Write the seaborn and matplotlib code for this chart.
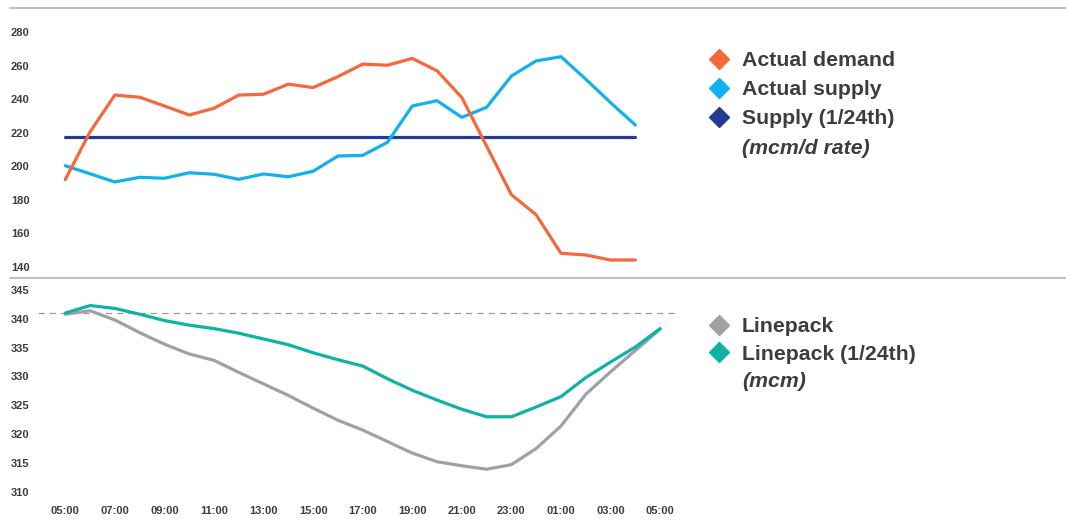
import matplotlib
matplotlib.use("Agg")
import matplotlib.pyplot as plt
from matplotlib.lines import Line2D
import seaborn as sns

# Gas day running 05:00 to 05:00
time_labels = ["05:00", "07:00", "09:00", "11:00", "13:00", "15:00", "17:00",
               "19:00", "21:00", "23:00", "01:00", "03:00", "05:00"]
hours_flow = list(range(24))        # hourly flow readings 05:00 .. 04:00
hours_pack = list(range(25))        # hourly linepack readings 05:00 .. 05:00

# Flow rates (mcm/d)
actual_demand = [192.0, 220.5, 242.5, 241.2, 236.0, 230.6, 234.6, 242.5, 243.0,
                 249.0, 247.0, 253.5, 261.0, 260.3, 264.4, 257.0, 241.0, 212.0,
                 183.0, 171.0, 148.0, 147.0, 144.0, 144.0]
actual_supply = [200.3, 195.5, 190.6, 193.4, 192.8, 196.1, 195.2, 192.2, 195.4,
                 193.7, 197.0, 206.1, 206.5, 214.3, 236.0, 239.1, 229.2, 235.2,
                 253.9, 262.9, 265.4, 252.0, 238.0, 224.6]
supply_24th = [217.5] * 24

# Linepack (mcm)
linepack = [340.8, 341.4, 339.8, 337.6, 335.6, 333.9, 332.8, 330.7, 328.7,
            326.7, 324.5, 322.4, 320.7, 318.7, 316.7, 315.2, 314.5, 313.9,
            314.7, 317.5, 321.4, 326.9, 330.8, 334.5, 338.2]
linepack_24th = [341.0, 342.3, 341.8, 340.8, 339.7, 338.9, 338.3, 337.5, 336.5,
                 335.5, 334.1, 332.9, 331.8, 329.6, 327.6, 325.9, 324.3, 323.0,
                 323.0, 324.7, 326.5, 329.8, 332.5, 335.1, 338.3]
opening_linepack = 341.0

flow_ticks = [140, 160, 180, 200, 220, 240, 260, 280]
pack_ticks = [310, 315, 320, 325, 330, 335, 340, 345]

C_DEMAND = "#F4683C"
C_SUPPLY = "#12B0EC"
C_SUPPLY24 = "#223B97"
C_PACK = "#A0A0A5"
C_PACK24 = "#0DB3A7"
C_TEXT = "#3d3d3d"

sns.set_style("white")
plt.rcParams["font.family"] = ["Liberation Sans", "DejaVu Sans"]
plt.rcParams["font.weight"] = "bold"

W, H = 1066, 525
fig = plt.figure(figsize=(W / 100, H / 100), dpi=100)

def fig_box(left, top, right, bottom):
    return [left / W, 1 - bottom / H, (right - left) / W, (bottom - top) / H]

ax_top = fig.add_axes(fig_box(38, 8, 675, 278))
ax_bot = fig.add_axes(fig_box(38, 278, 675, 500))

lw = 2.3
sns.lineplot(x=hours_flow, y=supply_24th, ax=ax_top, color=C_SUPPLY24, linewidth=lw)
sns.lineplot(x=hours_flow, y=actual_supply, ax=ax_top, color=C_SUPPLY, linewidth=lw)
sns.lineplot(x=hours_flow, y=actual_demand, ax=ax_top, color=C_DEMAND, linewidth=lw)

ax_bot.axhline(opening_linepack, color="#999999", linewidth=0.9, linestyle=(0, (5, 4)))
sns.lineplot(x=hours_pack, y=linepack, ax=ax_bot, color=C_PACK, linewidth=lw)
sns.lineplot(x=hours_pack, y=linepack_24th, ax=ax_bot, color=C_PACK24, linewidth=lw)

for ax in (ax_top, ax_bot):
    ax.set_xlim(-1.1, 24.6)
    ax.set_xlabel("")
    ax.set_ylabel("")
    ax.tick_params(length=0, labelsize=8, labelcolor=C_TEXT, pad=6)
    sns.despine(ax=ax, left=True, bottom=True)

ax_top.set_ylim(133.25, 294.5)
ax_top.set_yticks(flow_ticks)
ax_top.set_xticks([])

ax_bot.set_ylim(308.56, 347.08)
ax_bot.set_yticks(pack_ticks)
ax_bot.set_xticks(list(range(0, 25, 2)))
ax_bot.set_xticklabels(time_labels)
ax_bot.tick_params(axis="x", pad=4)

# Horizontal rules framing the two panels
for y in (8, 278):
    fig.add_artist(Line2D([10 / W, 1.0], [1 - y / H] * 2, transform=fig.transFigure,
                          color="#b4b4b4", linewidth=1.2))

def diamond(color):
    return Line2D([], [], marker="D", markersize=10, color=color, linestyle="None")

blank = Line2D([], [], linestyle="None")

leg_kw = dict(frameon=False, fontsize=15.3, handlelength=0.95, handletextpad=0.6,
              borderpad=0, borderaxespad=0, loc="upper left",
              bbox_transform=fig.transFigure, labelcolor=C_TEXT)

leg1 = ax_top.legend([diamond(C_DEMAND), diamond(C_SUPPLY), diamond(C_SUPPLY24), blank],
                     ["Actual demand", "Actual supply", "Supply (1/24th)", "(mcm/d rate)"],
                     bbox_to_anchor=(709 / W, 1 - 51 / H), labelspacing=0.48, **leg_kw)
leg1.get_texts()[3].set_style("italic")

leg2 = ax_bot.legend([diamond(C_PACK), diamond(C_PACK24), blank],
                     ["Linepack", "Linepack (1/24th)", "(mcm)"],
                     bbox_to_anchor=(709 / W, 1 - 317 / H), labelspacing=0.40, **leg_kw)
leg2.get_texts()[2].set_style("italic")

fig.savefig("out.png", dpi=100, facecolor="white")
